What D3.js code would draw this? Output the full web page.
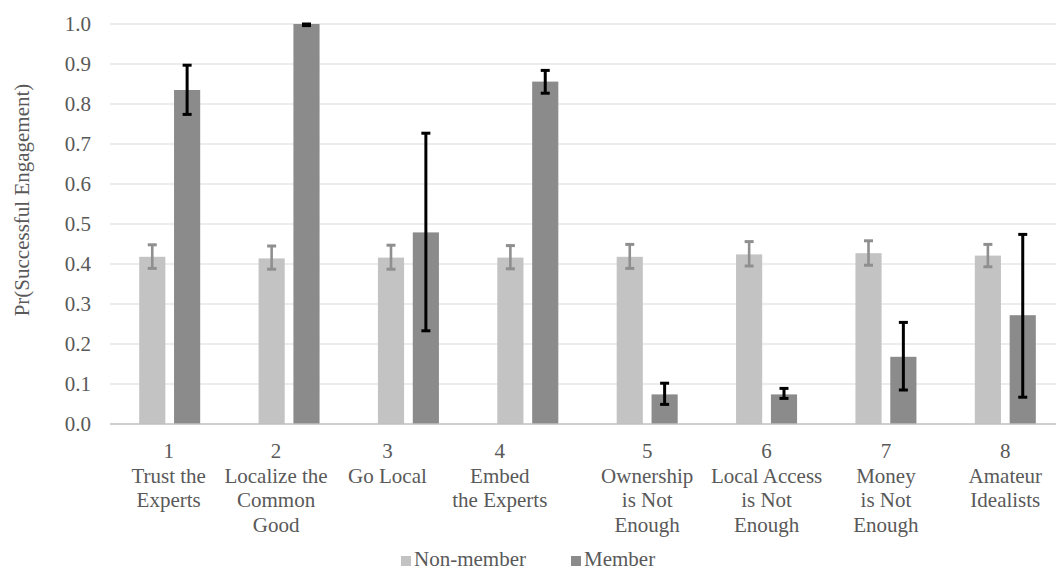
<!DOCTYPE html>
<html>
<head>
<meta charset="utf-8">
<script src="https://cdn.jsdelivr.net/npm/d3@7"></script>
<style>
  html, body { margin: 0; padding: 0; background: #ffffff; }
  svg { display: block; font-family: "Times New Roman", "Liberation Serif", Tinos, "DejaVu Serif", serif; }
  svg text { font-family: "Times New Roman", "Liberation Serif", Tinos, "DejaVu Serif", serif; fill: #595959; }
</style>
</head>
<body>
<svg id="chart" width="1056" height="571"></svg>
<script>
// ---- data ----
const categories = ["1", "2", "3", "4", "5", "6", "7", "8"];
const categoryLabels = [
  ["Trust the", "Experts"],
  ["Localize the", "Common", "Good"],
  ["Go Local"],
  ["Embed", "the Experts"],
  ["Ownership", "is Not", "Enough"],
  ["Local Access", "is Not", "Enough"],
  ["Money", "is Not", "Enough"],
  ["Amateur", "Idealists"]
];
const seriesNames = ["Non-member", "Member"];
const nonMember     = [0.418, 0.414, 0.416, 0.416, 0.418, 0.424, 0.427, 0.421];
const nonMemberLow  = [0.389, 0.387, 0.387, 0.388, 0.389, 0.395, 0.397, 0.393];
const nonMemberHigh = [0.448, 0.445, 0.447, 0.446, 0.449, 0.456, 0.458, 0.449];
const member        = [0.835, 1.000, 0.479, 0.856, 0.074, 0.074, 0.168, 0.272];
const memberLow     = [0.774, 0.996, 0.233, 0.827, 0.049, 0.064, 0.085, 0.067];
const memberHigh    = [0.897, 1.000, 0.727, 0.884, 0.102, 0.089, 0.254, 0.474];
const yTicks = [0, 0.1, 0.2, 0.3, 0.4, 0.5, 0.6, 0.7, 0.8, 0.9, 1.0];
const yTitle = "Pr(Successful Engagement)";

// ---- layout ----
const FONT = '"Times New Roman", "Liberation Serif", Tinos, "DejaVu Serif", serif';
const plotLeft = 110, plotRight = 1065, plotTop = 24, plotBottom = 424;
const labelShift = [-1, -13, -21, -28, 0, 0, 0, 0];
const colors = { "Non-member": "#c3c3c3", "Member": "#8b8b8b" };
const errColors = { "Non-member": "#8f8f8f", "Member": "#000000" };

const svg = d3.select("#chart");

const x0 = d3.scaleBand().domain(categories).range([plotLeft, plotRight])
  .paddingInner(0.489).paddingOuter(0.2445);
const x1 = d3.scaleBand().domain(seriesNames).range([0, x0.bandwidth()]).paddingInner(0.25);
const y = d3.scaleLinear().domain([0, 1]).range([plotBottom, plotTop]);

// gridlines
svg.append("g").selectAll("line").data(yTicks.slice(1)).join("line")
  .attr("x1", plotLeft).attr("x2", plotRight)
  .attr("y1", d => y(d)).attr("y2", d => y(d))
  .attr("stroke", "#d9d9d9").attr("stroke-width", 1.2);

// y tick labels
svg.append("g").selectAll("text").data(yTicks).join("text")
  .attr("x", 91).attr("y", d => y(d))
  .attr("text-anchor", "end").attr("dominant-baseline", "central")
  .style("font-family", FONT).style("font-size", "21px")
  .text(d => d3.format(".1f")(d));

// y title
svg.append("text")
  .attr("transform", `translate(29,200) rotate(-90)`)
  .attr("text-anchor", "middle")
  .style("font-family", FONT).style("font-size", "21px")
  .text(yTitle);

// bars
const rows = categories.map((c, i) => ({
  cat: c, i,
  values: [
    { s: "Non-member", v: nonMember[i], lo: nonMemberLow[i], hi: nonMemberHigh[i] },
    { s: "Member", v: member[i], lo: memberLow[i], hi: memberHigh[i] }
  ]
}));

const groups = svg.append("g").selectAll("g").data(rows).join("g")
  .attr("transform", d => `translate(${x0(d.cat)},0)`);

groups.selectAll("rect").data(d => d.values).join("rect")
  .attr("x", d => x1(d.s)).attr("width", x1.bandwidth())
  .attr("y", d => y(d.v)).attr("height", d => y(0) - y(d.v))
  .attr("fill", d => colors[d.s]);

// x axis line
svg.append("line")
  .attr("x1", plotLeft).attr("x2", plotRight).attr("y1", y(0)).attr("y2", y(0))
  .attr("stroke", "#bfbfbf").attr("stroke-width", 1.5);

// error bars
const eb = groups.selectAll("g.err").data(d => d.values).join("g").attr("class", "err");
eb.append("line")
  .attr("x1", d => x1(d.s) + x1.bandwidth() / 2).attr("x2", d => x1(d.s) + x1.bandwidth() / 2)
  .attr("y1", d => y(d.lo)).attr("y2", d => y(d.hi))
  .attr("stroke", d => errColors[d.s]).attr("stroke-width", d => d.s === "Member" ? 3 : 2.6);
eb.selectAll("line.cap").data(d => [{ d, v: d.lo }, { d, v: d.hi }]).join("line").attr("class", "cap")
  .attr("x1", e => x1(e.d.s) + x1.bandwidth() / 2 - 4.5)
  .attr("x2", e => x1(e.d.s) + x1.bandwidth() / 2 + 4.5)
  .attr("y1", e => y(e.v)).attr("y2", e => y(e.v))
  .attr("stroke", e => errColors[e.d.s]).attr("stroke-width", 3);

// category labels
const lab = svg.append("g").selectAll("text").data(rows).join("text")
  .attr("text-anchor", "middle")
  .style("font-family", FONT).style("font-size", "21px");
lab.selectAll("tspan").data(d => [d.cat].concat(categoryLabels[d.i]).map(t => ({ t, d }))).join("tspan")
  .attr("x", e => x0(e.d.cat) + x0.bandwidth() / 2 + labelShift[e.d.i])
  .attr("y", (e, k) => 458 + k * 24.5)
  .text(e => e.t);

// legend
const legend = svg.append("g");
const legX = [401, 571];
seriesNames.forEach((s, k) => {
  legend.append("rect").attr("x", legX[k]).attr("y", 556).attr("width", 10).attr("height", 10)
    .attr("fill", colors[s]);
  legend.append("text").attr("x", legX[k] + 13).attr("y", 566)
    .style("font-family", FONT).style("font-size", "21px").text(s);
});
</script>
</body>
</html>
